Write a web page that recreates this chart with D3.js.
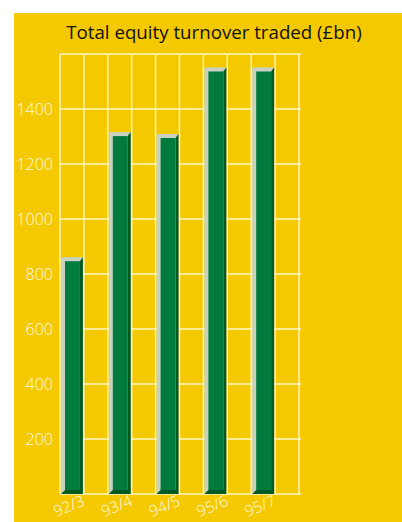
<!DOCTYPE html>
<html>
<head>
<meta charset="utf-8">
<script src="https://cdn.jsdelivr.net/npm/d3@7/dist/d3.min.js"></script>
<style>
  html, body { margin: 0; padding: 0; background: #fff; }
  svg { display: block; }
</style>
</head>
<body>
<svg id="chart" width="402" height="522"></svg>
<script>
// Total equity turnover traded, £bn, by financial year
const years = ["92/3", "93/4", "94/5", "95/6", "95/7"];
const turnover = [861, 1316, 1309, 1551, 1551];
const yTicks = [200, 400, 600, 800, 1000, 1200, 1400];
const gridValues = [0, 200, 400, 600, 800, 1000, 1200, 1400, 1600];

const svg = d3.select("#chart");
const W = 402, H = 522;
const plot = { left: 60, right: 299, top: 54, bottom: 494 };

const colors = {
  bg: "#f5c900",
  grid: "#fff6c8",
  face: "#007a3d",
  dark: "#005a22",
  light: "#c9d2c2",
  tick: "#fffbe6",
  title: "#111"
};

// panel
svg.append("rect").attr("x", 14).attr("y", 13)
  .attr("width", W - 14).attr("height", H - 13).attr("fill", colors.bg);

svg.append("text")
  .attr("x", 214).attr("y", 39)
  .attr("text-anchor", "middle")
  .attr("font-family", "'Open Sans', sans-serif")
  .attr("font-size", 18.7)
  .attr("fill", colors.title)
  .text("Total equity turnover traded (£bn)");

const y = d3.scaleLinear().domain([0, 1600]).range([plot.bottom, plot.top]);
const x = d3.scaleBand().domain(years).range([plot.left, plot.right]).padding(0);
const half = x.bandwidth() / 2;

// grid: horizontal lines
const g = svg.append("g");
g.selectAll("line.h").data(gridValues).join("line")
  .attr("class", "h")
  .attr("x1", plot.left).attr("x2", plot.right + 2)
  .attr("y1", d => y(d)).attr("y2", d => y(d))
  .attr("stroke", colors.grid).attr("stroke-width", 1.4);

// grid: vertical lines, two columns per year
const vx = [];
years.forEach(d => { vx.push(x(d)); vx.push(x(d) + half); });
vx.push(plot.right);
g.selectAll("line.v").data(vx).join("line")
  .attr("class", "v")
  .attr("x1", d => d).attr("x2", d => d)
  .attr("y1", plot.top).attr("y2", plot.bottom)
  .attr("stroke", colors.grid).attr("stroke-width", 1.4);

// bevelled bars
const bev = 4, side = 3;
const bars = svg.append("g").selectAll("g").data(years.map((d, i) => ({ year: d, v: turnover[i] }))).join("g");
bars.each(function(d) {
  const sel = d3.select(this);
  const x0 = x(d.year) + 1, x1 = x(d.year) + half - 1;
  const y0 = y(d.v), y1 = plot.bottom;
  // light left and top faces
  sel.append("rect").attr("x", x0).attr("y", y0).attr("width", x1 - x0).attr("height", y1 - y0).attr("fill", colors.light);
  // dark right and bottom faces
  sel.append("path")
    .attr("d", `M${x1},${y0} L${x1},${y1} L${x0},${y1} L${x0 + bev},${y1 - bev} L${x1 - side},${y1 - bev} L${x1 - side},${y0 + bev} Z`)
    .attr("fill", colors.dark);
  // front face
  sel.append("rect").attr("x", x0 + bev).attr("y", y0 + bev)
    .attr("width", x1 - side - x0 - bev).attr("height", y1 - bev - y0 - bev)
    .attr("fill", colors.face);
});

// y tick labels
svg.append("g").selectAll("text").data(yTicks).join("text")
  .attr("x", 53).attr("y", d => y(d))
  .attr("dy", "0.36em")
  .attr("text-anchor", "end")
  .attr("font-family", "'Open Sans', sans-serif")
  .attr("font-weight", 300)
  .attr("font-size", 16)
  .attr("fill", colors.tick)
  .text(d => d);

// x labels, slanted
svg.append("g").selectAll("text").data(years).join("text")
  .attr("transform", d => `translate(${x(d) + half / 2 - 1},${511}) rotate(-22)`)
  .attr("text-anchor", "middle")
  .attr("font-family", "'Open Sans', sans-serif")
  .attr("font-weight", 300)
  .attr("font-size", 15.5)
  .attr("fill", colors.tick)
  .text(d => d);
</script>
</body>
</html>
